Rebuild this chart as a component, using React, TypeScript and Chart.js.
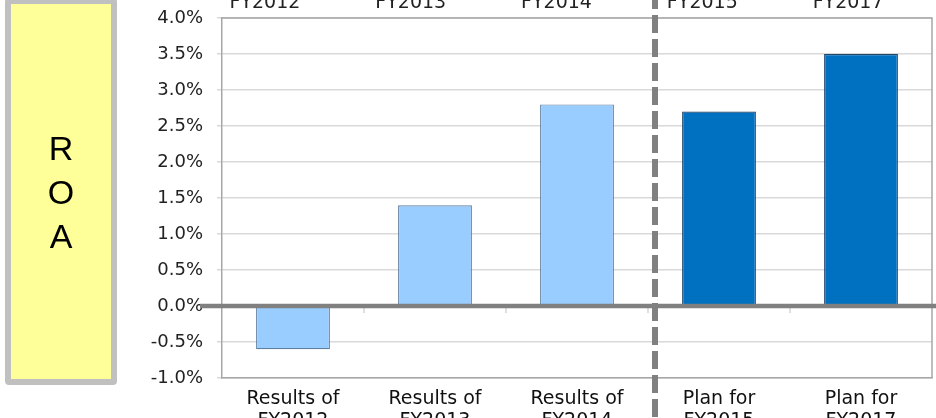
import { useEffect, useRef } from "react";
import { Chart, registerables } from "chart.js";

Chart.register(...registerables);

// Category labels under the axis (two lines each)
const categoryLabels: string[][] = [
  ["Results of", "FY2012"],
  ["Results of", "FY2013"],
  ["Results of", "FY2014"],
  ["Plan for", "FY2015"],
  ["Plan for", "FY2017"],
];

// Fiscal-year headings above the plot
const periodLabels = ["FY2012", "FY2013", "FY2014", "FY2015", "FY2017"];

// Return on assets, in percent
const roaValues = [-0.6, 1.4, 2.8, 2.7, 3.5];

// Which bars are actual results and which are plans
const barKinds = ["result", "result", "result", "plan", "plan"];

// Value axis range and spacing (percent)
const yMin = -1.0;
const yMax = 4.0;
const yStep = 0.5;

const TEXT_FONT = "'DejaVu Sans', 'Liberation Sans', Arial, sans-serif";

const resultFill = "#99ccff";
const resultEdge = "#5f7f9f";
const planFill = "#0070c0";
const planEdge = "#23466b";

const roaOverlay = {
  id: "roaOverlay",
  afterDatasetsDraw(chart: any) {
    const { ctx, chartArea: a, scales } = chart;
    const x = scales.x;
    const y = scales.y;
    const y0 = y.getPixelForValue(0);
    const n = roaValues.length;
    ctx.save();

    // right and top edges of the plot frame
    ctx.strokeStyle = "#a6a6a6";
    ctx.lineWidth = 1.5;
    ctx.beginPath();
    ctx.moveTo(a.left, a.top);
    ctx.lineTo(a.right, a.top);
    ctx.lineTo(a.right, a.bottom);
    ctx.stroke();

    // small category ticks hanging from the zero axis
    ctx.strokeStyle = "#bfbfbf";
    ctx.lineWidth = 1;
    ctx.beginPath();
    for (let i = 1; i < n; i++) {
      const bx = (x.getPixelForValue(i - 1) + x.getPixelForValue(i)) / 2;
      ctx.moveTo(bx, y0);
      ctx.lineTo(bx, y0 + 7);
    }
    ctx.stroke();

    // heavy zero axis
    ctx.strokeStyle = "#808080";
    ctx.lineWidth = 4.5;
    ctx.beginPath();
    ctx.moveTo(a.left - 22, y0);
    ctx.lineTo(chart.width, y0);
    ctx.stroke();

    // dashed divider between results and plans
    const split = barKinds.indexOf("plan");
    const dx =
      (x.getPixelForValue(split - 1) + x.getPixelForValue(split)) / 2 + 7;
    ctx.strokeStyle = "#808080";
    ctx.lineWidth = 6;
    ctx.setLineDash([18, 6]);
    ctx.lineDashOffset = 9;
    ctx.beginPath();
    ctx.moveTo(dx, 0);
    ctx.lineTo(dx, chart.height);
    ctx.stroke();
    ctx.setLineDash([]);

    // fiscal-year headings
    ctx.fillStyle = "#222222";
    ctx.font = `19px ${TEXT_FONT}`;
    ctx.textAlign = "center";
    ctx.textBaseline = "alphabetic";
    const bandStart = a.left - 30;
    const bandWidth = (a.right - 11 - bandStart) / periodLabels.length;
    periodLabels.forEach((label, i) => {
      ctx.fillText(label, bandStart + (i + 0.5) * bandWidth, 8);
    });

    ctx.restore();
  },
};

export default function App() {
  const canvasRef = useRef<HTMLCanvasElement | null>(null);

  useEffect(() => {
    const canvas = canvasRef.current;
    if (!canvas) return;
    const chart = new Chart(canvas, {
      type: "bar",
      data: {
        labels: categoryLabels,
        datasets: [
          {
            label: "ROA",
            data: roaValues,
            backgroundColor: barKinds.map((k) => (k === "plan" ? planFill : resultFill)),
            borderColor: barKinds.map((k) => (k === "plan" ? planEdge : resultEdge)),
            borderWidth: 1.2,
            borderSkipped: false,
            categoryPercentage: 1,
            barPercentage: 0.52,
          },
        ],
      },
      options: {
        responsive: false,
        animation: false,
        events: [],
        layout: { padding: { top: 18, right: 4, left: 0, bottom: 0 } },
        plugins: {
          legend: { display: false },
          tooltip: { enabled: false },
        },
        scales: {
          x: {
            type: "category",
            grid: { display: false, drawTicks: false },
            border: { display: true, color: "#a6a6a6", width: 1.5 },
            ticks: {
              color: "#111111",
              padding: 10,
              autoSkip: false,
              maxRotation: 0,
              font: { family: TEXT_FONT, size: 19, lineHeight: "22px" },
            },
            afterFit: (scale: any) => {
              scale.height = 40;
              scale.paddingLeft = 0;
              scale.paddingRight = 0;
            },
          },
          y: {
            min: yMin,
            max: yMax,
            grid: {
              color: (c: any) => (c.tick && c.tick.value === 0 ? "rgba(0,0,0,0)" : "#d9d9d9"),
              lineWidth: 1.5,
              tickLength: 5,
            },
            border: { display: true, color: "#a6a6a6", width: 1.5 },
            ticks: {
              stepSize: yStep,
              padding: 14,
              color: "#222222",
              font: { family: TEXT_FONT, size: 18 },
              callback: (v: any) => `${Number(v).toFixed(1)}%`,
            },
            afterFit: (scale: any) => {
              scale.width = 222;
              scale.paddingTop = 0;
              scale.paddingBottom = 0;
            },
          },
        },
      },
      plugins: [roaOverlay],
    });
    return () => chart.destroy();
  }, []);

  return (
    <div
      style={{
        position: "fixed",
        left: 0,
        top: 0,
        width: 936,
        height: 418,
        overflow: "hidden",
        background: "#ffffff",
      }}
    >
      <canvas
        ref={canvasRef}
        width={936}
        height={418}
        style={{ position: "absolute", left: 0, top: 0, width: 936, height: 418 }}
      />
      <div
        style={{
          position: "absolute",
          left: 5,
          top: -2,
          width: 112,
          height: 387,
          boxSizing: "border-box",
          border: "6px solid #c0c0c0",
          borderRadius: 4,
          background: "#ffff99",
        }}
      />
      <div
        style={{
          position: "absolute",
          left: 5,
          top: 126,
          width: 112,
          textAlign: "center",
          fontFamily: "'Liberation Sans', Arial, sans-serif",
          fontSize: 34,
          lineHeight: "44px",
          color: "#000000",
        }}
      >
        <div>R</div>
        <div>O</div>
        <div>A</div>
      </div>
    </div>
  );
}
